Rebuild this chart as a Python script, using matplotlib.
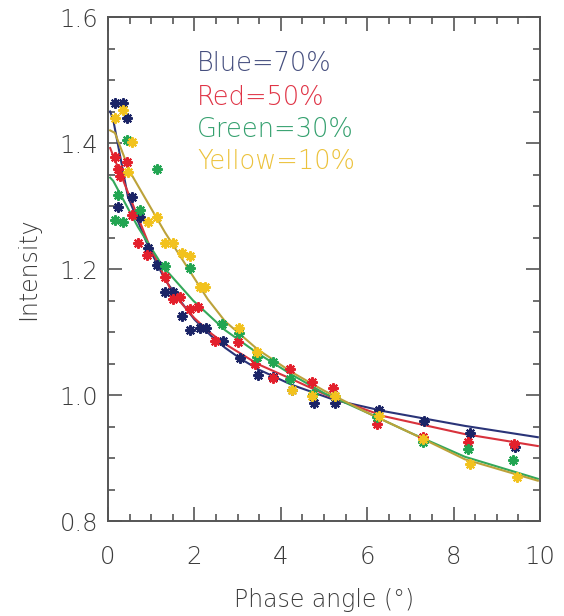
#import libraries
import numpy as np
import matplotlib.pyplot as plt

blue_x = [0.16, 0.23, 0.35, 0.44, 0.55, 0.74, 0.93, 1.13, 1.32, 1.50, 1.71, 1.90, 2.13, 2.27,
          2.66, 3.06, 3.47, 3.82, 4.26, 4.77, 5.25, 6.27, 7.31, 8.38, 9.42]
blue_y = [1.464, 1.299, 1.464, 1.440, 1.315, 1.282, 1.234, 1.207, 1.163, 1.163, 1.125, 1.103, 1.106, 1.106,
          1.085, 1.058, 1.031, 1.028, 1.008, 0.987, 0.987, 0.977, 0.959, 0.939, 0.917]

red_x = [0.16, 0.23, 0.28, 0.44, 0.55, 0.69, 0.90, 1.32, 1.50, 1.67, 1.90, 2.08, 2.48, 3.01,
         3.40, 3.82, 4.21, 4.72, 5.21, 6.23, 7.29, 8.33, 9.40]
red_y = [1.378, 1.358, 1.347, 1.370, 1.286, 1.242, 1.223, 1.187, 1.152, 1.156, 1.136, 1.139, 1.085, 1.084,
         1.050, 1.027, 1.041, 1.020, 1.011, 0.954, 0.933, 0.925, 0.922]

green_x = [0.16, 0.23, 0.35, 0.44, 0.74, 1.13, 1.32, 1.90, 2.64, 3.03, 3.45, 3.82, 4.21, 4.75,
           5.25, 6.23, 7.29, 8.33, 9.38]
green_y = [1.277, 1.318, 1.274, 1.405, 1.294, 1.358, 1.204, 1.202, 1.112, 1.099, 1.061, 1.053, 1.026, 1.001,
           0.998, 0.965, 0.925, 0.914, 0.897]

yellow_x = [0.16, 0.35, 0.46, 0.55, 0.93, 1.13, 1.32, 1.50, 1.71, 1.90, 2.13, 2.25, 3.03, 3.45,
            4.26, 4.72, 5.25, 6.27, 7.29, 8.38, 9.47]
yellow_y = [1.440, 1.453, 1.354, 1.402, 1.274, 1.283, 1.242, 1.242, 1.225, 1.220, 1.172, 1.172, 1.107, 1.068,
            1.008, 0.999, 0.998, 0.966, 0.930, 0.890, 0.870]

# fitted curves
blue_fx = [0.05, 0.12, 0.46, 0.93, 1.32, 1.60, 2.00, 2.40, 2.71, 3.06, 3.47, 4.26, 5.25, 6.41, 8.26, 9.95]
blue_fy = [1.450, 1.437, 1.315, 1.236, 1.183, 1.156, 1.120, 1.093, 1.075, 1.058, 1.041, 1.016, 0.992, 0.974, 0.951, 0.933]

red_fx = [0.05, 0.12, 0.46, 0.93, 1.48, 2.00, 2.40, 2.71, 3.47, 4.26, 5.25, 6.41, 8.26, 9.95]
red_fy = [1.392, 1.380, 1.322, 1.242, 1.163, 1.122, 1.097, 1.081, 1.049, 1.025, 0.994, 0.966, 0.938, 0.919]

green_fx = [0.05, 0.12, 0.69, 1.27, 1.97, 2.71, 3.47, 4.26, 5.00, 6.00, 7.00, 8.26, 9.95]
green_fy = [1.345, 1.340, 1.267, 1.204, 1.150, 1.103, 1.066, 1.032, 1.003, 0.972, 0.940, 0.902, 0.867]

yellow_fx = [0.05, 0.16, 0.51, 1.32, 2.31, 2.71, 3.47, 4.26, 5.00, 6.00, 7.00, 8.26, 9.95]
yellow_fy = [1.420, 1.416, 1.354, 1.258, 1.152, 1.117, 1.072, 1.036, 1.007, 0.972, 0.940, 0.898, 0.864]

labels = ['Blue=70%', 'Red=50%', 'Green=30%', 'Yellow=10%']

pt_cols = ['#1b2466', '#e3202c', '#22a552', '#f2c21e']
ln_cols = ['#2a3478', '#d8323c', '#34a85a', '#bca23a']
txt_cols = ['#454e7e', '#e03446', '#34a06e', '#ecc23c']

grey = '#555555'
txt_grey = '#3c3c3c'
plt.rcParams['font.family'] = ['DejaVu Sans']
plt.rcParams['font.weight'] = 'light'
plt.rcParams['axes.labelweight'] = 'light'

fig = plt.figure(figsize=(5.64, 6.16), dpi=100)
ax = fig.add_axes([0.1915, 0.1542, 0.7659, 0.8182])

series = [(blue_x, blue_y, blue_fx, blue_fy),
          (red_x, red_y, red_fx, red_fy),
          (green_x, green_y, green_fx, green_fy),
          (yellow_x, yellow_y, yellow_fx, yellow_fy)]

# lines first, then the asterisks on top
for i, (px, py, fx, fy) in enumerate(series):
    ax.plot(fx, fy, color=ln_cols[i], lw=1.5, zorder=2)
for i, (px, py, fx, fy) in enumerate(series):
    ax.plot(px, py, ls='none', marker=(8, 2, 0), ms=7.5, mew=1.5,
            color=pt_cols[i], zorder=3)

ax.set_xlim(0, 10)
ax.set_ylim(0.8, 1.6)
ax.set_xticks(np.arange(0, 10.1, 2))
ax.set_xticks(np.arange(0, 10.1, 0.5), minor=True)
ax.set_yticks([0.8, 1.0, 1.2, 1.4, 1.6])
ax.set_yticklabels(['0.8', '1.0', '1.2', '1.4', '1.6'])
ax.set_yticks(np.arange(0.8, 1.601, 0.05), minor=True)

ax.tick_params(which='both', direction='in', top=True, right=True, color=grey, width=1.2)
ax.tick_params(which='major', length=10)
ax.tick_params(which='minor', length=5)
ax.tick_params(axis='x', which='major', pad=17, labelsize=17.5, labelcolor=txt_grey)
ax.tick_params(axis='y', which='major', pad=7, labelsize=17.5, labelcolor=txt_grey)
for s in ax.spines.values():
    s.set_color(grey)
    s.set_linewidth(1.4)

ax.set_xlabel('Phase angle (°)', fontsize=17, color=txt_grey, labelpad=14)
ax.set_ylabel('Intensity', fontsize=17, color=txt_grey, labelpad=14)

# colour key written as text
ypos = [0.907, 0.841, 0.776, 0.714]
for i in range(4):
    ax.text(0.206, ypos[i], labels[i], transform=ax.transAxes, fontsize=18.5,
            color=txt_cols[i], va='center', ha='left')

fig.savefig('out.png', dpi=100)
